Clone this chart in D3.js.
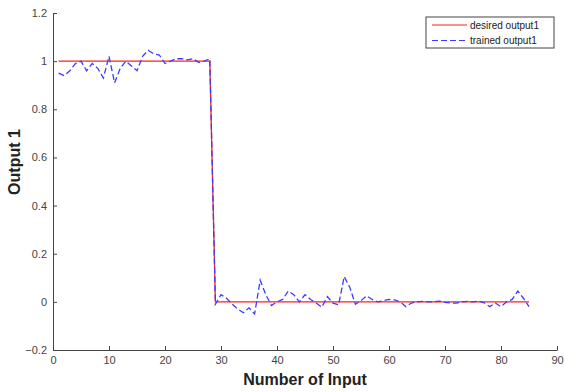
<!DOCTYPE html>
<html>
<head>
<meta charset="utf-8">
<script src="https://cdn.jsdelivr.net/npm/d3@7"></script>
<style>
  body { margin: 0; background: #fff; }
  svg { display: block; font-family: "Liberation Sans", Arial, sans-serif; }
</style>
</head>
<body>
<script>
"use strict";

// sample index (Number of Input)
var inputIdx = [1,2,3,4,5,6,7,8,9,10,11,12,13,14,15,16,17,18,19,20,
    21,22,23,24,25,26,27,28,29,30,31,32,33,34,35,36,37,38,39,40,
    41,42,43,44,45,46,47,48,49,50,51,52,53,54,55,56,57,58,59,60,
    61,62,63,64,65,66,67,68,69,70,71,72,73,74,75,76,77,78,79,80,
    81,82,83,84,85];

var desiredOutput = [1,1,1,1,1,1,1,1,1,1,1,1,1,1,1,1,1,1,1,1,
    1,1,1,1,1,1,1,1,0,0,0,0,0,0,0,0,0,0,0,0,
    0,0,0,0,0,0,0,0,0,0,0,0,0,0,0,0,0,0,0,0,
    0,0,0,0,0,0,0,0,0,0,0,0,0,0,0,0,0,0,0,0,
    0,0,0,0,0];

var trainedOutput = [0.95,0.94,0.96,0.99,1.0,0.96,0.99,0.97,0.93,1.02,
    0.91,0.97,1.0,0.98,0.96,1.02,1.045,1.03,1.025,0.99,
    1.0,1.01,1.01,1.005,1.01,0.995,1.0,1.01,-0.01,0.03,
    0.015,-0.01,-0.03,-0.045,-0.025,-0.05,0.09,0.03,-0.015,0.0,
    0.01,0.045,0.03,0.0,0.03,0.01,-0.005,-0.022,0.022,-0.005,
    -0.012,0.105,0.06,-0.01,0.005,0.025,0.01,0.0,0.005,0.01,
    0.008,0.0,-0.02,-0.005,0.0,0.002,0.0,0.0,0.003,-0.002,
    -0.005,-0.005,0.0,0.002,0.0,0.003,-0.004,-0.02,-0.005,-0.02,
    0.0,0.01,0.045,0.015,-0.02];

var xTicks = [0,10,20,30,40,50,60,70,80,90];
var yTicks = [-0.2,0,0.2,0.4,0.6,0.8,1,1.2];
var legendLabels = ["desired output1", "trained output1"];

var width = 564, height = 392;
var margin = {top: 13, right: 7, bottom: 42, left: 53};

var svg = d3.select("body").append("svg")
    .attr("width", width)
    .attr("height", height);

var x = d3.scaleLinear().domain([0, 90]).range([margin.left, width - margin.right]);
var y = d3.scaleLinear().domain([-0.2, 1.2]).range([height - margin.bottom, margin.top]);

// axes, MATLAB style with ticks pointing inward
var xAxis = svg.append("g")
    .attr("transform", "translate(0," + (height - margin.bottom) + ")")
    .call(d3.axisBottom(x).tickValues(xTicks).tickSizeInner(-4).tickSizeOuter(0).tickPadding(6));
var yAxis = svg.append("g")
    .attr("transform", "translate(" + margin.left + ",0)")
    .call(d3.axisLeft(y).tickValues(yTicks).tickSizeInner(-4).tickSizeOuter(0).tickPadding(6)
        .tickFormat(function(d) { return d3.format("")(Math.round(d * 10) / 10); }));

[xAxis, yAxis].forEach(function(ax) {
    ax.select(".domain").attr("stroke", "#444");
    ax.selectAll(".tick line").attr("stroke", "#444");
    ax.selectAll(".tick text").attr("fill", "#444").attr("font-size", 11);
});

var line = d3.line()
    .x(function(d) { return x(d[0]); })
    .y(function(d) { return y(d[1]); });

svg.append("path")
    .datum(d3.zip(inputIdx, desiredOutput))
    .attr("fill", "none")
    .attr("stroke", "#ff2020")
    .attr("stroke-width", 1.3)
    .attr("d", line);

svg.append("path")
    .datum(d3.zip(inputIdx, trainedOutput))
    .attr("fill", "none")
    .attr("stroke", "#3b3bff")
    .attr("stroke-width", 1.3)
    .attr("stroke-dasharray", "6,3")
    .attr("d", line);

// axis titles
svg.append("text")
    .attr("x", (margin.left + width - margin.right) / 2)
    .attr("y", 385)
    .attr("text-anchor", "middle")
    .attr("font-size", 16)
    .attr("font-weight", "bold")
    .attr("fill", "#222")
    .text("Number of Input");

svg.append("text")
    .attr("transform", "translate(20,162) rotate(-90)")
    .attr("text-anchor", "middle")
    .attr("font-size", 16)
    .attr("font-weight", "bold")
    .attr("fill", "#222")
    .text("Output 1");

// legend
var legend = svg.append("g").attr("transform", "translate(426,17)");
legend.append("rect")
    .attr("width", 128)
    .attr("height", 31)
    .attr("fill", "#fff")
    .attr("stroke", "#444");
var legendStyles = [{c: "#ff2020", dash: null}, {c: "#3b3bff", dash: "6,3"}];
legendLabels.forEach(function(lbl, i) {
    var yy = 8 + i * 15.5;
    legend.append("line")
        .attr("x1", 6).attr("x2", 41)
        .attr("y1", yy).attr("y2", yy)
        .attr("stroke", legendStyles[i].c)
        .attr("stroke-width", 1.2)
        .attr("stroke-dasharray", legendStyles[i].dash);
    legend.append("text")
        .attr("x", 44)
        .attr("y", yy + 3.5)
        .attr("font-size", 10)
        .attr("fill", "#222")
        .text(lbl);
});
</script>
</body>
</html>
